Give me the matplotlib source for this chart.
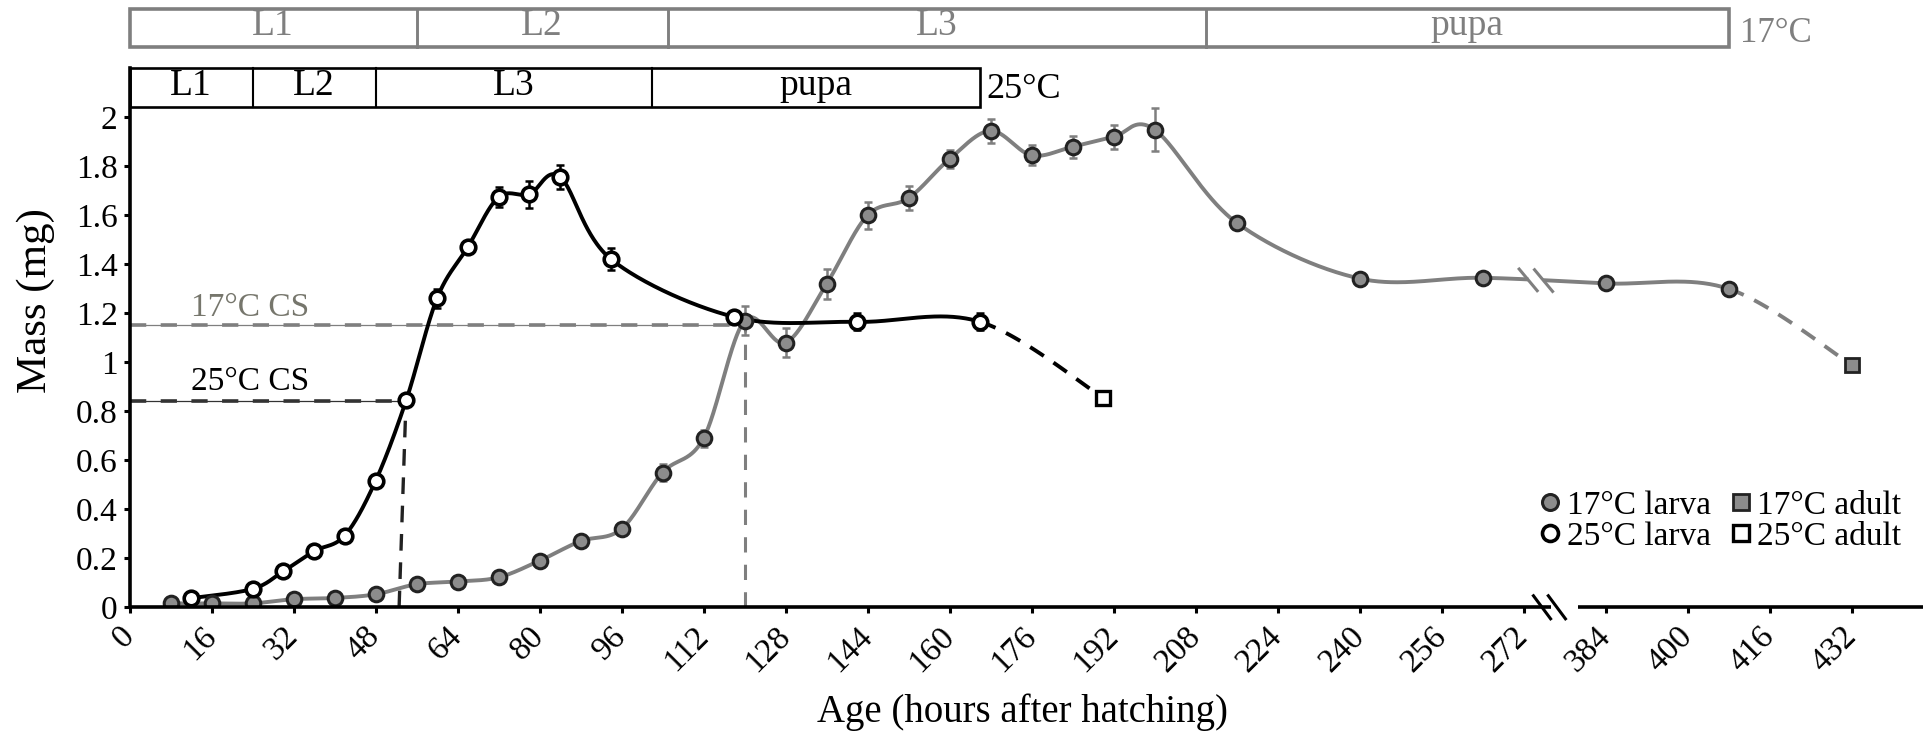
import numpy as np
import matplotlib
matplotlib.use('Agg')
import matplotlib.pyplot as plt
import matplotlib.transforms as mtransforms
from matplotlib.lines import Line2D
from matplotlib.patches import Rectangle
from matplotlib.ticker import FuncFormatter

plt.rcParams['font.family'] = ['Liberation Serif', 'DejaVu Serif']

# ---- data --------------------------------------------------------------
# 17 C larvae: age (h), mass (mg), error
age17 = [8, 16, 24, 32, 40, 48, 56, 64, 72, 80, 88, 96, 104, 112, 120, 128,
         136, 144, 152, 160, 168, 176, 184, 192, 200, 216, 240, 264, 384, 408]
mass17 = [0.016, 0.016, 0.016, 0.033, 0.038, 0.053, 0.094, 0.105, 0.122, 0.19,
          0.27, 0.32, 0.55, 0.69, 1.17, 1.08, 1.32, 1.60, 1.67, 1.83,
          1.945, 1.845, 1.88, 1.92, 1.95, 1.57, 1.342, 1.345, 1.322, 1.30]
err17 = [0.005, 0.005, 0.005, 0.005, 0.005, 0.005, 0.01, 0.01, 0.01, 0.015,
         0.02, 0.02, 0.035, 0.035, 0.06, 0.06, 0.062, 0.054, 0.05, 0.035,
         0.05, 0.04, 0.045, 0.05, 0.087, 0.02, 0.02, 0.02, 0.02, 0.02]
age17_adult = [432]
mass17_adult = [0.99]

# 25 C larvae
age25 = [12, 24, 30, 36, 42, 48, 54, 60, 66, 72, 78, 84, 94, 118, 142, 166]
mass25 = [0.037, 0.075, 0.147, 0.229, 0.293, 0.515, 0.846, 1.261, 1.47, 1.674,
          1.686, 1.757, 1.42, 1.185, 1.165, 1.165]
err25 = [0.005, 0.005, 0.01, 0.01, 0.01, 0.01, 0.02, 0.04, 0.02, 0.04,
         0.055, 0.05, 0.045, 0.02, 0.035, 0.035]
age25_adult = [190]
mass25_adult = [0.855]

# critical size lines
cs17_mass, cs17_age = 1.153, 120
cs25_mass, cs25_age = 0.843, 53.9

# developmental stages (label, start h, end h)
stages25 = [('L1', 0, 24), ('L2', 24, 48), ('L3', 48, 102), ('pupa', 102, 166)]
stages17 = [('L1', 0, 56), ('L2', 56, 105), ('L3', 105, 210), ('pupa', 210, 408)]

xtick_vals = [0, 16, 32, 48, 64, 80, 96, 112, 128, 144, 160, 176, 192, 208,
              224, 240, 256, 272, 384, 400, 416, 432]

GREY = '#7f7f7f'
MGREY = '#8c8c8c'
EDGE = '#222222'
CSGREY = '#76766c'

BREAK_AT = 280
BREAK_SKIP = 96


def ax_x(h):
    """map real hours onto the broken axis"""
    h = np.asarray(h, float)
    return np.where(h < BREAK_AT, h, h - BREAK_SKIP)


def smooth(x, y, n=60):
    """Excel style smoothed line (cubic bezier through every point)"""
    x = np.asarray(x, float)
    y = np.asarray(y, float)
    px = np.concatenate([[x[0]], x, [x[-1]]])
    py = np.concatenate([[y[0]], y, [y[-1]]])
    t = np.linspace(0, 1, n)[:, None]
    xs, ys = [], []
    for i in range(1, len(px) - 2):
        p0 = np.array([px[i], py[i]])
        p3 = np.array([px[i + 1], py[i + 1]])
        c1 = p0 + (np.array([px[i + 1], py[i + 1]]) - np.array([px[i - 1], py[i - 1]])) / 6
        c2 = p3 - (np.array([px[i + 2], py[i + 2]]) - np.array([px[i], py[i]])) / 6
        b = ((1 - t) ** 3) * p0 + 3 * ((1 - t) ** 2) * t * c1 + 3 * (1 - t) * t ** 2 * c2 + t ** 3 * p3
        xs.append(b[:, 0])
        ys.append(b[:, 1])
    return xs, ys


fig = plt.figure(figsize=(19.33, 7.37), dpi=100)
ax = fig.add_axes([0.0670, 0.1760, 0.9280, 0.7313])
ax.set_xlim(0, 350)
ax.set_ylim(0, 2.2)

# ---- 17 C curve ----
x17 = ax_x(age17 + age17_adult)
y17 = np.array(mass17 + mass17_adult)
segx, segy = smooth(x17, y17)
solid_x = np.concatenate(segx[:-1])
solid_y = np.concatenate(segy[:-1])
gap = (solid_x > 273.3) & (solid_x < 275.6)
solid_y = np.where(gap, np.nan, solid_y)
ax.plot(solid_x, solid_y, color=GREY, lw=2.8, zorder=3, solid_capstyle='butt')
ax.plot(segx[-1], segy[-1], color=GREY, lw=2.8, ls=(0, (4.2, 3)), zorder=3)

# break slashes on the data line
for xc in [272.9, 275.9]:
    yc = np.interp(xc, x17, y17)
    ax.plot([xc - 1.95, xc + 1.95], [yc + 0.049, yc - 0.049], color=GREY,
            lw=2.2, zorder=4, solid_capstyle='butt')

# ---- 25 C curve ----
x25 = np.array(age25 + age25_adult, float)
y25 = np.array(mass25 + mass25_adult)
segx, segy = smooth(x25, y25)
ax.plot(np.concatenate(segx[:-1]), np.concatenate(segy[:-1]), color='black',
        lw=2.8, zorder=3)
ax.plot(segx[-1], segy[-1], color='black', lw=2.8, ls=(0, (4.2, 3)), zorder=3)

# ---- critical size lines ----
ax.plot([0, cs17_age], [cs17_mass, cs17_mass], color=GREY, lw=0.9, zorder=2)
ax.plot([0, cs17_age], [cs17_mass, cs17_mass], color=GREY, lw=2.6,
        ls=(0, (4.5, 4)), zorder=2)
ax.plot([cs17_age, cs17_age], [0, cs17_mass], color=GREY, lw=2.2,
        ls=(0, (5, 4)), zorder=2)
ax.plot([0, cs25_age - 1], [cs25_mass, cs25_mass], color='#333333', lw=0.9, zorder=2)
ax.plot([0, cs25_age - 1], [cs25_mass, cs25_mass], color='#333333', lw=2.6,
        ls=(0, (4.5, 4)), zorder=2)
ax.plot([cs25_age - 1.3, cs25_age], [0, cs25_mass - 0.03], color='#222222', lw=2.4,
        ls=(0, (5, 3.5)), zorder=2)
ax.text(12, 1.19, '17°C CS', color=CSGREY, fontsize=24, va='baseline', ha='left')
ax.text(12, 0.885, '25°C CS', color='black', fontsize=24, va='baseline', ha='left')

# ---- error bars and markers ----
ax.errorbar(ax_x(age17), mass17, yerr=err17, fmt='none', ecolor=GREY,
            elinewidth=1.8, capsize=3, capthick=1.8, zorder=4)
ax.errorbar(age25, mass25, yerr=err25, fmt='none', ecolor='black',
            elinewidth=1.8, capsize=3, capthick=1.8, zorder=4)
ax.plot(ax_x(age17), mass17, 'o', ms=10.5, mfc=MGREY, mec=EDGE, mew=2.2, zorder=5)
ax.plot(age25, mass25, 'o', ms=10.5, mfc='white', mec='black', mew=2.6, zorder=5)
ax.plot(ax_x(age17_adult), mass17_adult, 's', ms=10, mfc=MGREY, mec=EDGE, mew=2, zorder=5)
ax.plot(age25_adult, mass25_adult, 's', ms=10, mfc='white', mec='black', mew=2.4, zorder=5)

# ---- axes styling ----
for s in ['top', 'right', 'bottom']:
    ax.spines[s].set_visible(False)
ax.spines['left'].set_linewidth(2.6)
# broken x axis drawn in two pieces
ax.plot([0, 277.4], [0, 0], color='black', lw=2.6, clip_on=False, zorder=6,
        solid_capstyle='butt')
ax.plot([282.6, 350], [0, 0], color='black', lw=2.6, clip_on=False, zorder=6,
        solid_capstyle='butt')
for xc in [275.6, 278.5]:
    ax.plot([xc - 1.85, xc + 1.85], [0.052, -0.052], color='black', lw=2.2,
            clip_on=False, zorder=6, solid_capstyle='butt')

ax.set_xticks(ax_x(xtick_vals))
ax.set_xticklabels([str(v) for v in xtick_vals], rotation=45, ha='right',
                   va='center', rotation_mode='anchor')
ax.set_yticks(np.arange(0, 2.01, 0.2))
ax.yaxis.set_major_formatter(FuncFormatter(lambda v, p: '%g' % round(v, 1)))
ax.tick_params(axis='both', labelsize=24, direction='out', length=4.5, width=2.2)
ax.tick_params(axis='x', pad=13)
ax.tick_params(axis='y', pad=4)

ax.set_ylabel('Mass (mg)', fontsize=31, va='center')
ax.yaxis.set_label_coords(-0.052, 0.57)
ax.set_xlabel('Age (hours after hatching)', fontsize=28, va='center')
ax.xaxis.set_label_coords(0.498, -0.195)

# ---- stage bars ----
trans = mtransforms.blended_transform_factory(ax.transData, ax.transAxes)


def stage_bar(stages, y0, y1, color, lw):
    x0 = float(ax_x(stages[0][1]))
    x1 = float(ax_x(stages[-1][2]))
    ax.add_patch(Rectangle((x0, y0), x1 - x0, y1 - y0, transform=trans,
                           fill=False, ec=color, lw=lw, clip_on=False, zorder=6))
    for name, a, b in stages:
        xa, xb = float(ax_x(a)), float(ax_x(b))
        if a > stages[0][1]:
            ax.plot([xa, xa], [y0, y1], transform=trans, color=color, lw=lw * 0.8,
                    clip_on=False, zorder=6)
        ax.text((xa + xb) / 2, (y0 + y1) / 2 + 0.003, name, transform=trans,
                ha='center', va='center', fontsize=27, color=color)
    return x1


x_end = stage_bar(stages25, 0.9288, 1.0, 'black', 1.9)
ax.text(x_end + 1.2, 0.96, '25°C', transform=trans, fontsize=26,
        ha='left', va='center', color='black')
x_end = stage_bar(stages17, 1.0395, 1.1108, GREY, 2.6)
ax.text(x_end + 2.2, 1.0655, '17°C', transform=trans, fontsize=25,
        ha='left', va='center', color=GREY)

# ---- legend ----
handles = [
    Line2D([], [], ls='none', marker='o', ms=11.5, mfc=MGREY, mec=EDGE, mew=2.2),
    Line2D([], [], ls='none', marker='o', ms=11.5, mfc='white', mec='black', mew=2.6),
    Line2D([], [], ls='none', marker='s', ms=11, mfc=MGREY, mec=EDGE, mew=2),
    Line2D([], [], ls='none', marker='s', ms=11, mfc='white', mec='black', mew=2.4),
]
labels = ['17°C larva', '25°C larva', '17°C adult', '25°C adult']
ax.legend(handles, labels, ncol=2, loc='center', bbox_to_anchor=(0.887, 0.160),
          frameon=False, fontsize=24, handlelength=0.6, handletextpad=0.2,
          columnspacing=0.6, labelspacing=0.0, borderpad=0)

fig.savefig('out.png', dpi=100)
